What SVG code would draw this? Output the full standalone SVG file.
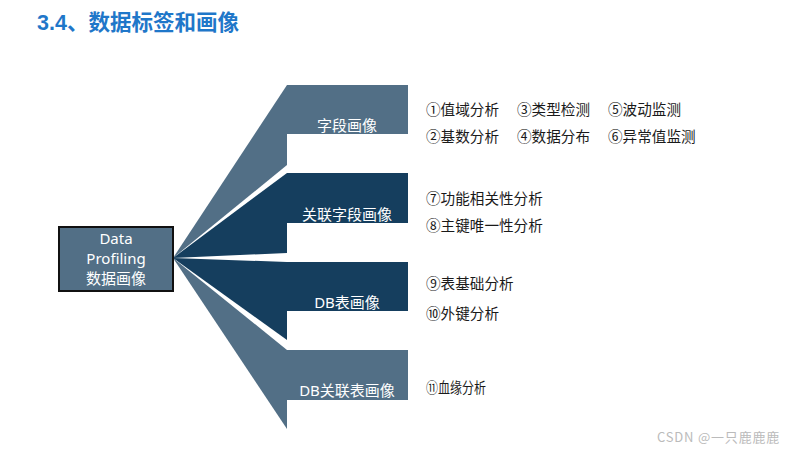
<svg xmlns="http://www.w3.org/2000/svg" width="800" height="450" viewBox="0 0 800 450">
<style>
.lt{fill:#526F86}
.dk{fill:#153E5E}
.lbl{font-family:"Noto Sans","Noto Sans CJK SC",sans-serif;font-size:15px;fill:#FFFFFF;text-anchor:middle;dominant-baseline:central}
.item{font-family:"Noto Sans CJK SC","Noto Sans",sans-serif;font-size:14.6px;fill:#1a1a1a;dominant-baseline:central}
</style>
<rect width="800" height="450" fill="#FFFFFF"/>
<text x="37" y="23" font-family="'Liberation Sans','Noto Sans CJK SC',sans-serif" font-size="21.5" font-weight="bold" fill="#1F77C9" dominant-baseline="central">3.4、数据标签和画像</text>
<g id="connectors">
<polygon class="lt" points="173,258 287,85 287,165"/>
<polygon class="dk" points="173,258 287,173 287,253"/>
<polygon class="dk" points="173,258 287,262 287,340"/>
<polygon class="lt" points="173,258 287,350 287,429"/>
</g>
<g id="root">
<rect x="59" y="227" width="114" height="64" fill="#526F86" stroke="#111111" stroke-width="2"/>
<text x="116" y="238" class="lbl" font-size="16.5">Data</text>
<text x="116" y="258" class="lbl" font-size="16.5">Profiling</text>
<text x="116" y="278" class="lbl" font-size="16.5">数据画像</text>
</g>
<g id="field">
<rect class="lt" x="287" y="85" width="121" height="49"/>
<text x="347" y="125" class="lbl">字段画像</text>
</g>
<g id="relfield">
<rect class="dk" x="287" y="173" width="121" height="50"/>
<text x="347" y="214" class="lbl">关联字段画像</text>
</g>
<g id="table">
<rect class="dk" x="287" y="262" width="121" height="49"/>
<text x="347" y="302" class="lbl">DB表画像</text>
</g>
<g id="reltable">
<rect class="lt" x="287" y="350" width="121" height="50"/>
<text x="347" y="390" class="lbl">DB关联表画像</text>
</g>
<g id="items">
<text x="426" y="108" class="item">①值域分析</text>
<text x="517" y="108" class="item">③类型检测</text>
<text x="608" y="108" class="item">⑤波动监测</text>
<text x="426" y="135" class="item">②基数分析</text>
<text x="517" y="135" class="item">④数据分布</text>
<text x="608" y="135" class="item">⑥异常值监测</text>
<text x="426" y="197" class="item">⑦功能相关性分析</text>
<text x="426" y="224" class="item">⑧主键唯一性分析</text>
<text x="426" y="282" class="item">⑨表基础分析</text>
<text x="426" y="312" class="item">⑩外键分析</text>
<text x="426" y="386" class="item" textLength="60" lengthAdjust="spacingAndGlyphs">⑪血缘分析</text>
</g>
<text x="657" y="436" font-family="'Noto Sans CJK SC',sans-serif" font-size="13" letter-spacing="0.8" fill="#BBBBBB" dominant-baseline="central">CSDN @一只鹿鹿鹿</text>
</svg>
